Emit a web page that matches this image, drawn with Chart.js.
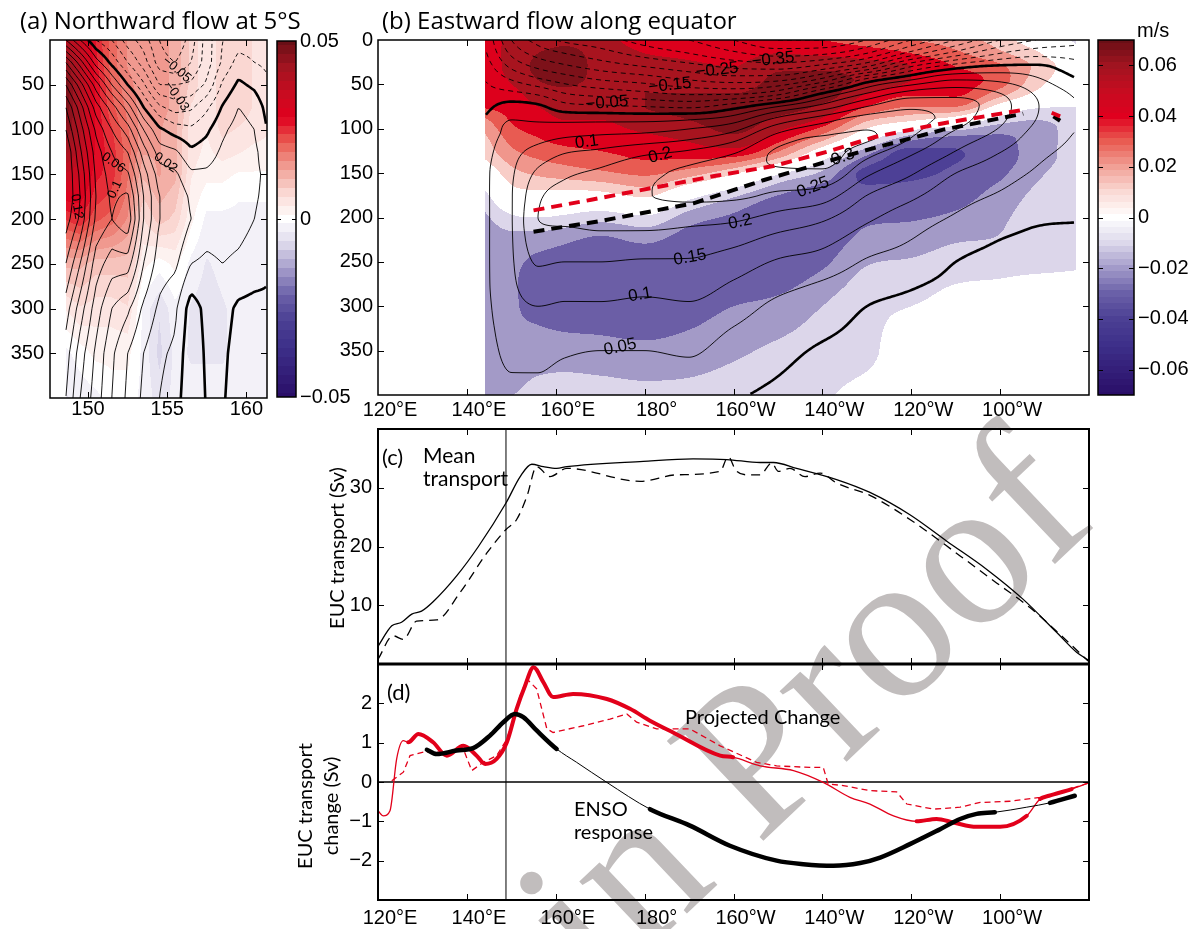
<!DOCTYPE html>
<html lang="en">
<head>
<meta charset="UTF-8">
<title>EUC transport and flow changes</title>
<script src="https://cdn.jsdelivr.net/npm/chart.js"></script>
<style>
  html, body { margin: 0; padding: 0; background: #fff; }
  #page { position: relative; width: 1198px; height: 929px; overflow: hidden; }
  #page canvas { position: absolute; }
</style>
</head>
<body>
<div id="page">
  <canvas id="mark" width="1198" height="929" style="left:0;top:0;z-index:0"></canvas>
  <canvas id="chartA" width="345" height="425" style="left:0;top:0;z-index:1"></canvas>
  <canvas id="cbarA" width="80" height="425" style="left:270px;top:0;z-index:1"></canvas>
  <canvas id="chartB" width="810" height="425" style="left:290px;top:0;z-index:1"></canvas>
  <canvas id="cbarB" width="108" height="425" style="left:1090px;top:0;z-index:1"></canvas>
  <canvas id="chartC" width="810" height="246" style="left:290px;top:420px;z-index:1"></canvas>
  <canvas id="chartD" width="810" height="267" style="left:290px;top:662px;z-index:1"></canvas>
</div>
<script>
// ---------- data ----------
const lonTicks = [120, 140, 160, 180, 200, 220, 240, 260];
const depthTicks = [0, 50, 100, 150, 200, 250, 300, 350];

// (a) northward flow at 5S: one profile per longitude, depths in depA
const lonA = [148.6, 149.5, 150.5, 151.5, 152.5, 153.5, 154.5, 155.5, 156.5, 157.5, 158.5, 159.5, 160.5, 161.3];
const depA = [0, 25, 50, 75, 100, 125, 150, 175, 200, 250, 300, 350, 400];
const changeA = [
  [0.04, 0.045, 0.048, 0.048, 0.046, 0.042, 0.036, 0.03, 0.024, 0.012, 0.004, -0.002, -0.004],
  [0.035, 0.038, 0.04, 0.04, 0.04, 0.038, 0.034, 0.03, 0.026, 0.012, 0.006, 0.0, -0.003],
  [0.026, 0.027, 0.028, 0.028, 0.028, 0.028, 0.027, 0.025, 0.022, 0.01, 0.005, 0.002, -0.002],
  [0.02, 0.02, 0.021, 0.022, 0.024, 0.025, 0.025, 0.023, 0.02, 0.01, 0.005, 0.002, 0.0],
  [0.016, 0.016, 0.017, 0.018, 0.019, 0.02, 0.019, 0.018, 0.016, 0.01, 0.006, 0.002, 0.0],
  [0.015, 0.015, 0.015, 0.015, 0.015, 0.014, 0.012, 0.009, 0.006, 0.002, -0.002, -0.002, -0.002],
  [0.015, 0.015, 0.015, 0.015, 0.014, 0.014, 0.014, 0.012, 0.01, 0.0, -0.006, -0.007, -0.005],
  [0.013, 0.013, 0.013, 0.013, 0.012, 0.012, 0.012, 0.01, 0.008, 0.002, -0.002, -0.003, -0.003],
  [0.008, 0.008, 0.008, 0.006, 0.005, 0.005, 0.004, 0.003, 0.002, -0.002, -0.004, -0.004, -0.003],
  [0.004, 0.004, 0.004, 0.004, 0.004, 0.003, 0.002, 0.0, -0.002, -0.004, -0.005, -0.004, -0.003],
  [0.008, 0.008, 0.008, 0.008, 0.007, 0.005, 0.002, 0.0, -0.002, -0.003, -0.004, -0.004, -0.003],
  [0.008, 0.008, 0.008, 0.008, 0.006, 0.004, 0.001, -0.001, -0.002, -0.003, -0.003, -0.003, -0.003],
  [0.006, 0.006, 0.006, 0.006, 0.005, 0.003, 0.001, -0.001, -0.002, -0.002, -0.003, -0.003, -0.003],
  [0.005, 0.005, 0.005, 0.005, 0.004, 0.003, 0.001, -0.001, -0.002, -0.002, -0.003, -0.003, -0.003]
];
const meanA = [
  [0.03, 0.07, 0.1, 0.12, 0.13, 0.14, 0.14, 0.14, 0.135, 0.12, 0.105, 0.095, 0.09],
  [0.01, 0.045, 0.075, 0.095, 0.105, 0.112, 0.118, 0.12, 0.118, 0.1, 0.085, 0.075, 0.07],
  [-0.01, 0.015, 0.045, 0.065, 0.078, 0.085, 0.088, 0.09, 0.088, 0.075, 0.065, 0.058, 0.055],
  [-0.02, -0.003, 0.02, 0.045, 0.06, 0.07, 0.075, 0.078, 0.08, 0.065, 0.05, 0.042, 0.04],
  [-0.035, -0.02, 0.0, 0.025, 0.045, 0.06, 0.072, 0.082, 0.088, 0.065, 0.042, 0.03, 0.028],
  [-0.045, -0.035, -0.018, 0.0, 0.02, 0.035, 0.045, 0.05, 0.05, 0.04, 0.028, 0.02, 0.018],
  [-0.06, -0.055, -0.04, -0.018, 0.002, 0.015, 0.025, 0.03, 0.03, 0.025, 0.018, 0.012, 0.01],
  [-0.07, -0.06, -0.04, -0.025, -0.005, 0.012, 0.022, 0.028, 0.03, 0.022, 0.012, 0.008, 0.005],
  [-0.055, -0.05, -0.038, -0.022, -0.008, 0.002, 0.012, 0.018, 0.02, 0.01, -0.005, -0.008, -0.009],
  [-0.035, -0.035, -0.028, -0.012, -0.002, 0.005, 0.012, 0.015, 0.015, 0.008, 0.003, 0.002, 0.001],
  [-0.02, -0.018, -0.008, 0.001, 0.008, 0.012, 0.015, 0.016, 0.015, 0.01, 0.004, 0.002, 0.001],
  [-0.015, -0.006, 0.002, 0.01, 0.014, 0.016, 0.016, 0.015, 0.014, 0.008, -0.002, -0.004, -0.005],
  [-0.015, -0.01, -0.002, 0.006, 0.01, 0.012, 0.012, 0.011, 0.01, 0.005, -0.003, -0.005, -0.006],
  [-0.015, -0.012, -0.008, -0.003, 0.0, 0.005, 0.008, 0.008, 0.007, 0.002, -0.002, -0.004, -0.005]
];
const labelsA = [[149.3, 186, '0.12', 80], [151.7, 167, '0.1', -65], [151.6, 137, '0.06', 35],
  [154.9, 137, '0.02', 35], [155.6, 33, '\u22120.05', 40], [155.6, 63, '\u22120.03', 55]];

// (b) eastward flow along the equator
const lonB = [144, 150, 156, 162, 170, 180, 190, 200, 210, 220, 230, 240, 250, 260, 268, 277];
const depB = [0, 15, 30, 45, 60, 75, 90, 110, 130, 150, 175, 200, 225, 250, 275, 300, 350, 400];
const changeB = [
  [0.045, 0.045, 0.045, 0.044, 0.043, 0.041, 0.028, 0.018, 0.012, 0.0, -0.013, -0.022, -0.025, -0.026, -0.026, -0.025, -0.023, -0.02],
  [0.052, 0.053, 0.053, 0.051, 0.047, 0.044, 0.041, 0.034, 0.026, 0.016, 0.004, -0.012, -0.024, -0.028, -0.029, -0.029, -0.027, -0.02],
  [0.055, 0.06, 0.062, 0.06, 0.055, 0.05, 0.046, 0.04, 0.032, 0.022, 0.006, -0.01, -0.025, -0.032, -0.033, -0.032, -0.026, -0.015],
  [0.058, 0.062, 0.063, 0.062, 0.058, 0.054, 0.05, 0.044, 0.035, 0.025, 0.005, -0.012, -0.028, -0.034, -0.035, -0.034, -0.026, -0.013],
  [0.055, 0.057, 0.058, 0.058, 0.058, 0.055, 0.05, 0.045, 0.038, 0.028, 0.006, -0.016, -0.032, -0.036, -0.036, -0.034, -0.027, -0.014],
  [0.045, 0.05, 0.055, 0.057, 0.06, 0.06, 0.056, 0.048, 0.042, 0.032, 0.012, -0.012, -0.028, -0.036, -0.037, -0.035, -0.028, -0.016],
  [0.045, 0.048, 0.052, 0.056, 0.06, 0.062, 0.06, 0.052, 0.043, 0.025, -0.005, -0.025, -0.035, -0.038, -0.037, -0.034, -0.026, -0.016],
  [0.045, 0.047, 0.05, 0.055, 0.06, 0.063, 0.064, 0.058, 0.042, 0.012, -0.018, -0.032, -0.038, -0.038, -0.035, -0.03, -0.022, -0.014],
  [0.045, 0.05, 0.058, 0.062, 0.063, 0.063, 0.058, 0.045, 0.025, -0.008, -0.03, -0.038, -0.039, -0.037, -0.033, -0.027, -0.018, -0.012],
  [0.04, 0.048, 0.058, 0.063, 0.064, 0.058, 0.048, 0.025, -0.003, -0.022, -0.036, -0.038, -0.036, -0.032, -0.026, -0.02, -0.015, -0.011],
  [0.035, 0.045, 0.055, 0.058, 0.05, 0.04, 0.022, -0.003, -0.03, -0.042, -0.037, -0.032, -0.027, -0.021, -0.016, -0.012, -0.012, -0.006],
  [0.03, 0.04, 0.05, 0.05, 0.042, 0.03, 0.012, -0.025, -0.045, -0.042, -0.036, -0.031, -0.025, -0.019, -0.014, -0.01, -0.004, 0.0],
  [0.025, 0.032, 0.04, 0.045, 0.042, 0.03, 0.003, -0.032, -0.041, -0.038, -0.034, -0.028, -0.021, -0.015, -0.01, -0.006, 0.0, 0.0],
  [0.015, 0.022, 0.032, 0.035, 0.025, 0.005, -0.015, -0.032, -0.035, -0.032, -0.026, -0.022, -0.019, -0.013, -0.009, -0.004, 0.0, 0.0],
  [0.002, 0.012, 0.018, 0.015, 0.008, -0.008, -0.02, -0.025, -0.025, -0.022, -0.018, -0.015, -0.013, -0.012, -0.008, -0.004, -0.002, 0.0],
  [-0.012, -0.005, 0.002, 0.002, -0.002, -0.01, -0.015, -0.016, -0.016, -0.015, -0.014, -0.013, -0.012, -0.011, -0.008, -0.005, -0.003, 0.0]
];
const meanB = [
  [-0.1, -0.09, -0.07, -0.05, -0.035, -0.015, 0.005, 0.025, 0.035, 0.04, 0.04, 0.04, 0.04, 0.04, 0.04, 0.038, 0.033, 0.025],
  [-0.25, -0.21, -0.16, -0.1, -0.04, 0.02, 0.05, 0.07, 0.085, 0.093, 0.097, 0.097, 0.096, 0.094, 0.09, 0.082, 0.06, 0.04],
  [-0.32, -0.27, -0.21, -0.14, -0.06, 0.01, 0.045, 0.085, 0.125, 0.16, 0.19, 0.2, 0.18, 0.155, 0.13, 0.1, 0.062, 0.04],
  [-0.36, -0.3, -0.24, -0.17, -0.1, -0.03, 0.04, 0.1, 0.155, 0.19, 0.215, 0.21, 0.18, 0.15, 0.12, 0.095, 0.055, 0.03],
  [-0.38, -0.33, -0.27, -0.2, -0.12, -0.04, 0.04, 0.11, 0.17, 0.21, 0.235, 0.22, 0.185, 0.15, 0.12, 0.095, 0.05, 0.02],
  [-0.42, -0.37, -0.3, -0.22, -0.14, -0.05, 0.04, 0.12, 0.2, 0.24, 0.248, 0.22, 0.185, 0.145, 0.115, 0.09, 0.05, 0.02],
  [-0.45, -0.4, -0.33, -0.25, -0.16, -0.06, 0.05, 0.14, 0.22, 0.26, 0.258, 0.215, 0.18, 0.145, 0.12, 0.095, 0.055, 0.025],
  [-0.5, -0.44, -0.36, -0.27, -0.16, -0.02, 0.08, 0.18, 0.255, 0.29, 0.26, 0.21, 0.165, 0.125, 0.095, 0.07, 0.03, 0.005],
  [-0.55, -0.47, -0.37, -0.26, -0.12, 0.05, 0.17, 0.27, 0.31, 0.29, 0.24, 0.185, 0.135, 0.095, 0.065, 0.04, 0.012, -0.008],
  [-0.55, -0.46, -0.33, -0.18, 0.0, 0.12, 0.23, 0.305, 0.32, 0.29, 0.225, 0.16, 0.115, 0.08, 0.045, 0.025, -0.005, -0.02],
  [-0.5, -0.4, -0.25, -0.03, 0.1, 0.2, 0.275, 0.305, 0.26, 0.21, 0.15, 0.11, 0.075, 0.045, 0.02, 0.0, -0.015, -0.03],
  [-0.4, -0.28, -0.1, 0.05, 0.17, 0.24, 0.27, 0.25, 0.2, 0.155, 0.11, 0.075, 0.05, 0.03, 0.005, -0.01, -0.025, -0.04],
  [-0.3, -0.18, -0.02, 0.1, 0.18, 0.225, 0.22, 0.18, 0.14, 0.1, 0.07, 0.045, 0.02, 0.0, -0.01, -0.02, -0.03, -0.04],
  [-0.2, -0.1, 0.01, 0.09, 0.15, 0.17, 0.16, 0.13, 0.095, 0.07, 0.045, 0.02, 0.0, -0.01, -0.015, -0.02, -0.025, -0.03],
  [-0.15, -0.07, 0.01, 0.06, 0.095, 0.105, 0.1, 0.08, 0.06, 0.045, 0.025, 0.005, -0.005, -0.01, -0.012, -0.015, -0.02, -0.02],
  [-0.12, -0.07, -0.03, 0.005, 0.04, 0.055, 0.055, 0.045, 0.035, 0.025, 0.015, 0.002, -0.005, -0.008, -0.01, -0.012, -0.012, -0.012]
];
const labelsB = [[208.9, 22, '\u22120.35', -6], [196.3, 34, '\u22120.25', -6], [185.7, 51, '\u22120.15', -6],
  [171.5, 71, '\u22120.05', -4], [167, 115, '0.1', -8], [183.5, 130, '0.2', -15], [224.6, 132, '0.3', -20],
  [217.9, 166, '0.25', -20], [201.5, 205, '0.2', -12], [190.2, 245, '0.15', -10], [179, 287, '0.1', -10],
  [174.5, 346, '0.05', -12]];
const redDashLon = [155, 168, 183.5, 196, 209, 221, 232, 247, 266, 268.8, 271.6, 273.5];
const redDashDep = [192, 180, 165, 153, 142, 126, 109, 94, 78, null, 82, 86];
const blackDashLon = [155, 170, 191, 206.7, 228.5, 247.2, 265.2, 268.6, 272, 273.5];
const blackDashDep = [216, 204, 184, 158, 126, 101, 83, null, 86, 91];

// (c) mean EUC transport (Sv)
const cSolidLon = [120, 123.1, 125.3, 127.6, 129.8, 132.4, 137.7, 142.6, 148.8, 152.0, 154.6, 157.2, 160.2, 162.5, 179.7, 190.9, 198.5, 206.0, 209.0, 214.2, 223.2, 230.7, 239.7, 248.0, 257.0, 265.2, 272.7, 277.2, 279.8];
const cSolidSv = [3.0, 6.5, 7.1, 8.5, 9.0, 10.6, 15.0, 20.0, 27.4, 31.9, 34.0, 33.6, 33.3, 33.6, 34.5, 34.9, 34.8, 34.3, 34.3, 33.3, 31.4, 29.2, 25.4, 20.9, 16.1, 11.0, 5.4, 2.0, 0.7];
const cDashLon = [120, 123.4, 125.7, 128.7, 133.2, 138.5, 144.5, 148.8, 151.2, 153.5, 155.7, 158.7, 162.5, 179.0, 187.2, 197.0, 198.8, 200.5, 203.0, 206.0, 208.6, 210.1, 212.7, 216.1, 219.5, 223.2, 230.7, 239.7, 251.0, 259.2, 266.7, 274.1, 279.8];
const cDashSv = [0.8, 4.8, 4.2, 7.3, 7.5, 12.2, 18.9, 22.9, 24.6, 28.5, 33.6, 31.9, 33.3, 31.1, 32.2, 32.8, 35.3, 33.0, 32.2, 32.2, 34.2, 32.8, 33.3, 31.9, 32.5, 30.8, 28.7, 24.6, 18.4, 13.8, 9.6, 4.6, 0.5];
const sectionLon = 148.8;

// (d) EUC transport change (Sv); *Thick = 1 where the curve is drawn bold
const dRedLon = [120, 121.2, 122.7, 124.2, 125.7, 126.8, 129.1, 132.4, 135.5, 139.2, 142.2, 144.1, 146.7, 149.0, 151.2, 153.1, 155.0, 157.2, 159.4, 163.9, 171.5, 176.7, 181.2, 186.4, 197.0, 199.9, 206.0, 213.5, 220.2, 226.2, 230.7, 236.0, 241.2, 245.7, 249.5, 254.7, 260.0, 266.0, 269.0, 271.0, 276.1, 279.8];
const dRedSv = [-0.73, -0.86, -0.73, 0.59, 1.05, 1.01, 1.22, 1.01, 0.67, 0.92, 0.67, 0.46, 0.59, 1.01, 1.86, 2.45, 2.92, 2.54, 2.16, 2.24, 2.11, 1.86, 1.56, 1.26, 0.67, 0.63, 0.41, 0.29, -0.01, -0.39, -0.56, -0.86, -1.0, -0.94, -1.03, -1.14, -1.14, -0.86, -0.43, -0.35, -0.18, -0.03];
const dRedThick = [0, 0, 0, 0, 0, 1, 1, 1, 1, 1, 1, 1, 1, 1, 1, 1, 1, 1, 1, 1, 1, 1, 1, 1, 1, 0, 0, 0, 0, 0, 0, 0, 1, 1, 1, 1, 1, 0, 1, 1, 0, 0];
const dRedDashLon = [123.1, 125.7, 127.2, 130.2, 133.2, 136.2, 139.2, 141.1, 143.7, 146.7, 149.0, 152.0, 153.5, 155.7, 158.0, 159.4, 166.2, 172.2, 176.0, 178.2, 182.7, 190.2, 197.0, 205.2, 209.7, 217.2, 220.2, 221.3, 224.7, 230.7, 236.7, 239.0, 245.0, 251.0, 255.5, 262.2, 269.0, 273.5, 279.8];
const dRedDashSv = [0.03, 0.25, 0.67, 0.76, 0.76, 0.76, 0.84, 0.29, 0.50, 0.67, 1.09, 2.20, 2.62, 2.37, 1.35, 1.26, 1.43, 1.60, 1.73, 1.52, 1.35, 1.35, 0.92, 0.50, 0.41, 0.37, 0.37, -0.05, -0.09, -0.22, -0.25, -0.56, -0.69, -0.64, -0.52, -0.49, -0.39, -0.26, -0.03];
const dBlackLon = [131.0, 133.2, 137.7, 141.4, 145.2, 148.2, 150.8, 152.7, 155.7, 160.2, 164.7, 171.5, 181.2, 190.2, 199.2, 209.7, 215.7, 222.5, 228.5, 233.0, 239.7, 246.5, 251.0, 254.7, 258.8, 266.0, 271.2, 276.8];
const dBlackSv = [0.82, 0.71, 0.80, 0.86, 1.18, 1.52, 1.73, 1.65, 1.31, 0.84, 0.50, -0.01, -0.69, -1.11, -1.62, -2.0, -2.09, -2.13, -2.06, -1.92, -1.58, -1.20, -0.94, -0.81, -0.77, -0.64, -0.53, -0.35];
const dBlackThick = [1, 1, 1, 1, 1, 1, 1, 1, 1, 0, 0, 0, 1, 1, 1, 1, 1, 1, 1, 1, 1, 1, 1, 1, 0, 0, 1, 1];

// ---------- helpers ----------
Chart.defaults.font.family = '"Liberation Sans", Arial, sans-serif';
Chart.defaults.font.size = 20;
Chart.defaults.color = '#000';
const LATO = '"Lato", "Open Sans", sans-serif';
const TITLE = '24px "Open Sans", "Lato", sans-serif';
const RED = '#e2001a';

const cmapStops = [[-1, [42, 14, 104]], [-0.714, [62, 48, 138]], [-0.571, [76, 64, 148]], [-0.429, [106, 96, 168]],
  [-0.286, [162, 154, 201]], [-0.143, [220, 216, 235]], [0, [255, 255, 255]], [0.143, [250, 218, 213]],
  [0.286, [241, 160, 150]], [0.429, [233, 92, 82]], [0.571, [224, 0, 30]], [0.714, [198, 12, 32]],
  [0.857, [160, 20, 32]], [1, [105, 15, 22]]];
function cmap(t) {
  t = Math.max(-1, Math.min(1, t));
  for (let k = 0; k < cmapStops.length - 1; k++) {
    const [t0, c0] = cmapStops[k], [t1, c1] = cmapStops[k + 1];
    if (t <= t1) { const f = (t - t0) / (t1 - t0); return c0.map((c, i) => Math.round(c + (c1[i] - c) * f)); }
  }
  return cmapStops[cmapStops.length - 1][1];
}
const bandEdgesB = [-0.04, -0.03, -0.02, -0.01, 0.01, 0.02, 0.03, 0.04, 0.05, 0.06];
const bandColorsB = [[77, 64, 150], [107, 94, 166], [163, 154, 199], [220, 214, 234], [255, 255, 255], [248, 205, 199],
  [240, 150, 140], [232, 91, 82], [221, 0, 28], [168, 20, 31], [125, 17, 25]];
function bandB(v) { let k = 0; while (k < bandEdgesB.length && v >= bandEdgesB[k]) k++; return bandColorsB[k]; }

function lonLabel(v) { return v < 180 ? v + '°E' : v === 180 ? '180°' : (360 - v) + '°W'; }
function signed(v, d) { return v === 0 ? '0' : (v < 0 ? '\u2212' : '') + Math.abs(v).toFixed(d); }
const pts = (xs, ys) => xs.map((x, i) => ({ x, y: ys[i] }));
const steps = (a, b, s) => { const r = []; for (let v = a; v <= b + 1e-9; v += s) r.push(Math.round(v * 1000) / 1000); return r; };

function monoSlopes(xs, ys) {
  const n = xs.length, d = [], m = new Array(n);
  for (let i = 0; i < n - 1; i++) d.push((ys[i + 1] - ys[i]) / (xs[i + 1] - xs[i]));
  m[0] = d[0]; m[n - 1] = d[n - 2];
  for (let i = 1; i < n - 1; i++) m[i] = d[i - 1] * d[i] <= 0 ? 0 : (d[i - 1] + d[i]) / 2;
  for (let i = 0; i < n - 1; i++) {
    if (d[i] === 0) { m[i] = 0; m[i + 1] = 0; continue; }
    const a = m[i] / d[i], b = m[i + 1] / d[i], s = a * a + b * b;
    if (s > 9) { const t = 3 / Math.sqrt(s); m[i] = t * a * d[i]; m[i + 1] = t * b * d[i]; }
  }
  return m;
}
function interp(xs, ys, m, x) {
  const n = xs.length;
  if (!(x >= xs[0] && x <= xs[n - 1])) return NaN;
  let i = 0; while (i < n - 2 && x > xs[i + 1]) i++;
  const h = xs[i + 1] - xs[i], t = (x - xs[i]) / h;
  if (!m) return ys[i] + (ys[i + 1] - ys[i]) * t;
  const t2 = t * t, t3 = t2 * t;
  return (2 * t3 - 3 * t2 + 1) * ys[i] + (t3 - 2 * t2 + t) * h * m[i] + (-2 * t3 + 3 * t2) * ys[i + 1] + (t3 - t2) * h * m[i + 1];
}
// sample a lon/depth grid on pixels, through the chart's own scales
function sampleField(chart, lons, deps, cols, x0, y0, step, nx, ny, smooth) {
  const xs = chart.scales.x, ys = chart.scales.y;
  const d0 = deps[0], d1 = deps[deps.length - 1];
  const rowD = [], colL = [];
  for (let j = 0; j < ny; j++) rowD.push(Math.min(d1, Math.max(d0, ys.getValueForPixel(y0 + j * step))));
  for (let i = 0; i < nx; i++) colL.push(xs.getValueForPixel(x0 + i * step));
  const prof = cols.map(c => { const m = smooth ? monoSlopes(deps, c) : null; return rowD.map(d => interp(deps, c, m, d)); });
  const vals = new Float32Array(nx * ny);
  for (let j = 0; j < ny; j++) {
    const yv = prof.map(p => p[j]);
    const m = smooth ? monoSlopes(lons, yv) : null;
    for (let i = 0; i < nx; i++) vals[j * nx + i] = interp(lons, yv, m, colL[i]);
  }
  return { nx, ny, vals, x0, y0, step };
}
// marching squares, segments chained into polylines
function contourLines(g, lv) {
  const { nx, ny, vals } = g;
  const pos = new Map(), adj = new Map();
  const key = (t, i, j) => (t * ny + j) * nx + i;
  const pt = (k, i0, j0, v0, i1, j1, v1) => {
    if (!pos.has(k)) { const t = (lv - v0) / (v1 - v0); pos.set(k, [g.x0 + (i0 + (i1 - i0) * t) * g.step, g.y0 + (j0 + (j1 - j0) * t) * g.step]); }
    return k;
  };
  const link = (a, b) => { if (!adj.has(a)) adj.set(a, []); if (!adj.has(b)) adj.set(b, []); adj.get(a).push(b); adj.get(b).push(a); };
  for (let j = 0; j < ny - 1; j++) for (let i = 0; i < nx - 1; i++) {
    const a = vals[j * nx + i], b = vals[j * nx + i + 1], c = vals[(j + 1) * nx + i + 1], d = vals[(j + 1) * nx + i];
    if (isNaN(a + b + c + d)) continue;
    const sa = a >= lv, sb = b >= lv, sc = c >= lv, sd = d >= lv;
    if (sa === sb && sb === sc && sc === sd) continue;
    const cr = [
      sa !== sb ? pt(key(0, i, j), i, j, a, i + 1, j, b) : null,
      sb !== sc ? pt(key(1, i + 1, j), i + 1, j, b, i + 1, j + 1, c) : null,
      sd !== sc ? pt(key(0, i, j + 1), i, j + 1, d, i + 1, j + 1, c) : null,
      sa !== sd ? pt(key(1, i, j), i, j, a, i, j + 1, d) : null
    ];
    const got = cr.filter(x => x !== null);
    if (got.length === 2) link(got[0], got[1]);
    else if (got.length === 4) {
      if (((a + b + c + d) / 4 >= lv) === sa) { link(cr[0], cr[1]); link(cr[2], cr[3]); }
      else { link(cr[0], cr[3]); link(cr[1], cr[2]); }
    }
  }
  const used = new Set(), lines = [];
  const walk = s => { const pl = [s]; used.add(s); let cur = s; for (;;) { const nb = adj.get(cur).find(n => !used.has(n)); if (nb === undefined) break; used.add(nb); pl.push(nb); cur = nb; } return pl; };
  for (const [k, nb] of adj) if (nb.length === 1 && !used.has(k)) lines.push(walk(k));
  for (const k of adj.keys()) if (!used.has(k)) { const pl = walk(k); pl.push(k); lines.push(pl); }
  return lines.map(pl => pl.map(k => pos.get(k)));
}

// ---------- plugins ----------
function fieldPlugin(f) {
  return {
    id: 'field',
    beforeDatasetsDraw(chart) {
      const { ctx, chartArea: a } = chart;
      const w = Math.round(a.right - a.left), h = Math.round(a.bottom - a.top);
      const sh = sampleField(chart, f.lons, f.deps, f.shade, a.left + 0.5, a.top + 0.5, 1, w, h, f.smooth);
      const off = document.createElement('canvas'); off.width = w; off.height = h;
      const octx = off.getContext('2d'), img = octx.createImageData(w, h);
      for (let k = 0; k < w * h; k++) {
        const v = sh.vals[k]; if (isNaN(v)) continue;
        const c = f.color(v);
        img.data[4 * k] = c[0]; img.data[4 * k + 1] = c[1]; img.data[4 * k + 2] = c[2]; img.data[4 * k + 3] = 255;
      }
      octx.putImageData(img, 0, 0);
      ctx.drawImage(off, a.left, a.top);
      const st = 2;
      const mg = sampleField(chart, f.lons, f.deps, f.mean, a.left, a.top, st, Math.floor(w / st) + 1, Math.floor(h / st) + 1, f.smooth);
      ctx.save();
      ctx.beginPath(); ctx.rect(a.left, a.top, w, h); ctx.clip();
      ctx.strokeStyle = '#000'; ctx.lineJoin = 'round';
      f.levels.forEach(lv => {
        ctx.lineWidth = lv === 0 ? f.zeroWidth : f.lineWidth;
        ctx.setLineDash(lv < 0 ? f.dash : []);
        contourLines(mg, lv).forEach(pl => {
          if (pl.length < 2) return;
          ctx.beginPath(); ctx.moveTo(pl[0][0], pl[0][1]);
          for (let k = 1; k < pl.length; k++) ctx.lineTo(pl[k][0], pl[k][1]);
          ctx.stroke();
        });
      });
      ctx.setLineDash([]);
      ctx.fillStyle = '#000'; ctx.font = f.labelFont; ctx.textAlign = 'center'; ctx.textBaseline = 'middle';
      f.labels.forEach(([lon, dep, txt, rot]) => {
        ctx.save();
        ctx.translate(chart.scales.x.getPixelForValue(lon), chart.scales.y.getPixelForValue(dep));
        ctx.rotate(rot * Math.PI / 180); ctx.fillText(txt, 0, 0); ctx.restore();
      });
      ctx.restore();
    }
  };
}
function colorbarPlugin(range, n) {
  return {
    id: 'cbar',
    beforeDatasetsDraw(chart) {
      const { ctx, chartArea: a } = chart, ys = chart.scales.y;
      for (let py = Math.floor(a.top); py < Math.ceil(a.bottom); py++) {
        const c = cmap(Math.round(ys.getValueForPixel(py + 0.5) / range * n) / n);
        ctx.fillStyle = `rgb(${c[0]},${c[1]},${c[2]})`;
        ctx.fillRect(a.left, py, a.right - a.left, 1);
      }
    }
  };
}
function framePlugin(cfg) {
  return {
    id: 'frame',
    afterDraw(chart) {
      const { ctx, chartArea: a } = chart, xs = chart.scales.x, ys = chart.scales.y, L = cfg.tick || 6;
      ctx.save(); ctx.strokeStyle = '#000'; ctx.lineWidth = 1; ctx.beginPath();
      (cfg.xt || []).forEach(v => {
        const p = Math.round(xs.getPixelForValue(v)) + 0.5;
        if (p <= a.left + 1 || p >= a.right - 1) return;
        ctx.moveTo(p, a.bottom); ctx.lineTo(p, a.bottom - L); ctx.moveTo(p, a.top); ctx.lineTo(p, a.top + L);
      });
      (cfg.yt || []).forEach(v => {
        const p = Math.round(ys.getPixelForValue(v)) + 0.5;
        if (p <= a.top + 1 || p >= a.bottom - 1) return;
        ctx.moveTo(a.left, p); ctx.lineTo(a.left + L, p); ctx.moveTo(a.right, p); ctx.lineTo(a.right - L, p);
      });
      ctx.stroke();
      ctx.lineWidth = cfg.box || 1.5;
      ctx.strokeRect(a.left, a.top, a.right - a.left, a.bottom - a.top);
      if (cfg.topWidth) { ctx.lineWidth = cfg.topWidth; ctx.beginPath(); ctx.moveTo(a.left, a.top); ctx.lineTo(a.right, a.top); ctx.stroke(); }
      ctx.restore();
    }
  };
}
function notesPlugin(items, ox, oy) {
  return {
    id: 'notes',
    afterDraw(chart) {
      const ctx = chart.ctx;
      items.forEach(it => {
        ctx.save(); ctx.font = it.font; ctx.fillStyle = '#000';
        ctx.textAlign = it.align || 'left'; ctx.textBaseline = it.base || 'alphabetic';
        ctx.translate(it.x - ox, it.y - oy); if (it.rot) ctx.rotate(it.rot * Math.PI / 180);
        ctx.fillText(it.text, 0, 0); ctx.restore();
      });
    }
  };
}
const noGrid = { grid: { display: false, drawTicks: false }, border: { display: false } };
function baseOptions(pad, scales) {
  return {
    responsive: false, devicePixelRatio: 1, animation: false,
    layout: { padding: pad },
    plugins: { legend: { display: false }, tooltip: { enabled: false } },
    scales
  };
}
function lonAxis(height, padding, show) {
  return Object.assign({
    type: 'linear', min: 120, max: 280, display: show,
    afterBuildTicks: s => { s.ticks = lonTicks.map(v => ({ value: v })); },
    afterFit: s => { s.height = height; s.paddingLeft = 0; s.paddingRight = 0; },
    ticks: { padding, labelOffset: 12, maxRotation: 0, autoSkip: false, font: { size: 20, lineHeight: 1 }, callback: v => lonLabel(v) }
  }, noGrid);
}
function valueAxis(opts) {
  return Object.assign({
    type: 'linear', min: opts.min, max: opts.max, reverse: !!opts.reverse, position: opts.position || 'left',
    afterBuildTicks: s => { s.ticks = opts.ticks.map(v => ({ value: v })); },
    afterFit: s => { s.width = opts.width; s.paddingTop = 0; s.paddingBottom = 0; },
    ticks: { padding: opts.padding, autoSkip: false, callback: opts.label || (v => String(v)) }
  }, noGrid);
}

// ---------- watermark ----------
(function () {
  const mk = document.getElementById('mark').getContext('2d');
  mk.save(); mk.translate(600, 996); mk.rotate(-43.5 * Math.PI / 180);
  mk.font = '212px "Liberation Serif", "DejaVu Serif", serif'; mk.fillStyle = 'rgb(193,189,189)';
  mk.fillText('in Proof', 0, 0); mk.restore();
})();

// ---------- (a) ----------
const lonTicksA = [150, 155, 160];
new Chart(document.getElementById('chartA'), {
  type: 'scatter', data: { datasets: [] },
  options: baseOptions({ left: 0, right: 78, top: 40, bottom: 0 }, {
    x: Object.assign({
      type: 'linear', min: 147.6, max: 161.3,
      afterBuildTicks: s => { s.ticks = lonTicksA.map(v => ({ value: v })); },
      afterFit: s => { s.height = 27; s.paddingLeft = 0; s.paddingRight = 0; },
      ticks: { padding: 1, maxRotation: 0, autoSkip: false, font: { size: 20, lineHeight: 1 } }
    }, noGrid),
    y: valueAxis({ min: 0, max: 400, reverse: true, ticks: depthTicks.slice(1), width: 50, padding: 6 })
  }),
  plugins: [
    fieldPlugin({ lons: lonA, deps: depA, shade: changeA, mean: meanA, smooth: false,
      color: v => cmap(Math.round(v / 0.05 * 20) / 20), levels: steps(-0.07, 0.16, 0.01),
      lineWidth: 0.9, zeroWidth: 2.6, dash: [4, 3], labels: labelsA, labelFont: '13px "Liberation Sans", Arial' }),
    framePlugin({ xt: lonTicksA, yt: depthTicks, box: 1.5 }),
    notesPlugin([{ text: '(a) Northward flow at 5°S', x: 20, y: 29, font: TITLE }], 0, 0)
  ]
});
new Chart(document.getElementById('cbarA'), {
  type: 'scatter', data: { datasets: [] },
  options: baseOptions({ left: 7, right: 0, top: 41, bottom: 28 }, {
    x: { type: 'linear', min: 0, max: 1, display: false },
    y: valueAxis({ min: -0.05, max: 0.05, position: 'right', ticks: [-0.05, 0, 0.05], width: 54, padding: 4, label: v => signed(v, 2) })
  }),
  plugins: [colorbarPlugin(0.05, 20), framePlugin({ yt: [0], box: 1.5, tick: 4 })]
});

// ---------- (b) ----------
new Chart(document.getElementById('chartB'), {
  type: 'scatter',
  data: { datasets: [
    { data: pts(redDashLon, redDashDep), showLine: true, borderColor: RED, borderWidth: 4, borderDash: [11, 7], pointRadius: 0, spanGaps: false },
    { data: pts(blackDashLon, blackDashDep), showLine: true, borderColor: '#000', borderWidth: 4, borderDash: [11, 7], pointRadius: 0, spanGaps: false }
  ] },
  options: baseOptions({ left: 0, right: 11, top: 40, bottom: 0 }, {
    x: lonAxis(30, 5, true),
    y: valueAxis({ min: 0, max: 400, reverse: true, ticks: depthTicks, width: 88, padding: 5 })
  }),
  plugins: [
    fieldPlugin({ lons: lonB, deps: depB, shade: changeB, mean: meanB, smooth: true, color: bandB,
      levels: steps(-0.55, 0.35, 0.05), lineWidth: 0.9, zeroWidth: 2.6, dash: [5, 4], labels: labelsB,
      labelFont: '17px "Liberation Sans", Arial' }),
    framePlugin({ xt: lonTicks, yt: depthTicks, box: 1.5 }),
    notesPlugin([{ text: '(b) Eastward flow along equator', x: 382, y: 29, font: TITLE }], 290, 0)
  ]
});
new Chart(document.getElementById('cbarB'), {
  type: 'scatter', data: { datasets: [] },
  options: baseOptions({ left: 8, right: 0, top: 40, bottom: 30 }, {
    x: { type: 'linear', min: 0, max: 1, display: false },
    y: valueAxis({ min: -0.07, max: 0.07, position: 'right', ticks: [-0.06, -0.04, -0.02, 0, 0.02, 0.04, 0.06], width: 64, padding: 4, label: v => signed(v, 2) })
  }),
  plugins: [colorbarPlugin(0.07, 28), framePlugin({ yt: [-0.06, -0.04, -0.02, 0, 0.02, 0.04, 0.06], box: 1.5, tick: 5 }),
    notesPlugin([{ text: 'm/s', x: 1137, y: 37, font: '20px "Liberation Sans", Arial' }], 1090, 0)]
});

// ---------- (c) ----------
new Chart(document.getElementById('chartC'), {
  type: 'scatter',
  data: { datasets: [
    { data: pts(cSolidLon, cSolidSv), showLine: true, borderColor: '#000', borderWidth: 1.3, pointRadius: 0, cubicInterpolationMode: 'monotone' },
    { data: pts(cDashLon, cDashSv), showLine: true, borderColor: '#000', borderWidth: 1.3, borderDash: [9, 6], pointRadius: 0, cubicInterpolationMode: 'monotone' },
    { data: [{ x: sectionLon, y: 0 }, { x: sectionLon, y: 40 }], showLine: true, borderColor: '#000', borderWidth: 1, pointRadius: 0 }
  ] },
  options: baseOptions({ left: 0, right: 11, top: 9, bottom: 2 }, {
    x: lonAxis(0, 0, false),
    y: valueAxis({ min: 0, max: 40, ticks: [10, 20, 30], width: 88, padding: 6 })
  }),
  plugins: [
    framePlugin({ xt: lonTicks, yt: [10, 20, 30], box: 2 }),
    notesPlugin([
      { text: '(c)', x: 382, y: 465, font: '22px ' + LATO },
      { text: 'Mean', x: 423, y: 463, font: '21px ' + LATO },
      { text: 'transport', x: 423, y: 486, font: '21px ' + LATO },
      { text: 'EUC transport (Sv)', x: 338, y: 548, rot: -90, align: 'center', base: 'middle', font: '20px ' + LATO }
    ], 290, 420)
  ]
});

// ---------- (d) ----------
new Chart(document.getElementById('chartD'), {
  type: 'scatter',
  data: { datasets: [
    { data: pts(dBlackLon, dBlackSv), showLine: true, borderColor: '#000', borderWidth: 1, pointRadius: 0, order: 0,
      cubicInterpolationMode: 'monotone', borderCapStyle: 'round', segment: { borderWidth: c => dBlackThick[c.p0DataIndex] ? 4.5 : 1 } },
    { data: pts(dRedLon, dRedSv), showLine: true, borderColor: RED, borderWidth: 1.3, pointRadius: 0, order: 1,
      cubicInterpolationMode: 'monotone', borderCapStyle: 'round', segment: { borderWidth: c => dRedThick[c.p0DataIndex] ? 4 : 1.3 } },
    { data: pts(dRedDashLon, dRedDashSv), showLine: true, borderColor: RED, borderWidth: 1.3, borderDash: [6, 4], pointRadius: 0, order: 2 },
    { data: [{ x: 120, y: 0 }, { x: 280, y: 0 }], showLine: true, borderColor: '#000', borderWidth: 1.3, pointRadius: 0, order: 3 },
    { data: [{ x: sectionLon, y: -3 }, { x: sectionLon, y: 3 }], showLine: true, borderColor: '#000', borderWidth: 1, pointRadius: 0, order: 4 }
  ] },
  options: baseOptions({ left: 0, right: 11, top: 2, bottom: 0 }, {
    x: lonAxis(29, 8, true),
    y: valueAxis({ min: -3, max: 3, ticks: [-2, -1, 0, 1, 2], width: 88, padding: 6, label: v => signed(v, 0) })
  }),
  plugins: [
    framePlugin({ xt: lonTicks, yt: [-2, -1, 0, 1, 2], box: 2, topWidth: 3 }),
    notesPlugin([
      { text: '(d)', x: 387, y: 700, font: '22px ' + LATO },
      { text: 'Projected Change', x: 685, y: 724, font: '20px ' + LATO },
      { text: 'ENSO', x: 574, y: 816, font: '20px ' + LATO },
      { text: 'response', x: 574, y: 839, font: '20px ' + LATO },
      { text: 'EUC transport', x: 306, y: 806, rot: -90, align: 'center', base: 'middle', font: '20px ' + LATO },
      { text: 'change (Sv)', x: 332, y: 806, rot: -90, align: 'center', base: 'middle', font: '20px ' + LATO }
    ], 290, 662)
  ]
});
</script>
</body>
</html>
